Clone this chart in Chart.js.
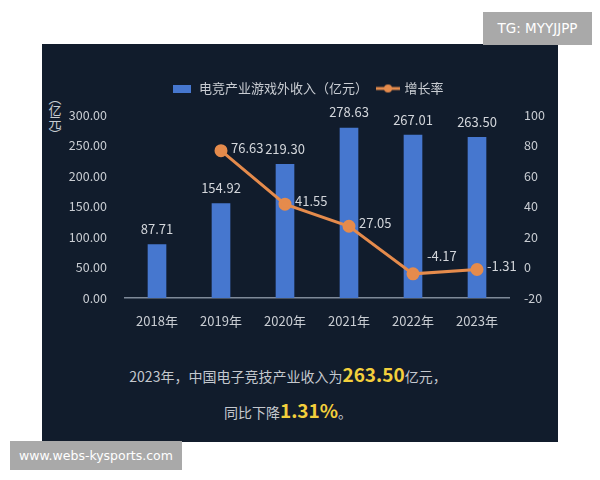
<!DOCTYPE html>
<html>
<head>
<meta charset="utf-8">
<script src="https://cdn.jsdelivr.net/npm/chart.js@4.4.1/dist/chart.umd.min.js"></script>
<style>
  html, body { margin: 0; padding: 0; width: 600px; height: 480px; overflow: hidden; background: #fff;
    font-family: 'Noto Sans CJK SC', 'Noto Sans', sans-serif; }
  #panel { position: absolute; left: 42px; top: 44px; width: 516px; height: 398px; background: #111c2c; }
  #chartBox { position: absolute; left: 42px; top: 42px; width: 516px; height: 300px; }
  #yTitle { position: absolute; left: 48px; top: 92px; width: 14px; text-align: center; color: #c9cdd3; font-size: 13px; line-height: 12px; }
  #summary { position: absolute; left: 42px; top: 357px; width: 492px; text-align: center; color: #c4c8ce; font-size: 14px; line-height: 33px; }
  #summary b { color: #f3cf3c; font-size: 19px; font-weight: bold; }
  .badge { position: absolute; background: #a9a9a9; color: #fff; text-align: center; font-family: 'DejaVu Sans', sans-serif; }
  #tg { left: 483px; top: 12px; width: 109px; height: 33px; line-height: 33px; font-size: 13.5px; }
  #site { left: 10px; top: 441px; width: 172px; height: 29px; line-height: 29px; font-size: 12.5px; }
</style>
</head>
<body>
<div id="panel"></div>
<div id="yTitle">︵<br>亿<br>元<br>︶</div>
<div id="chartBox"><canvas id="grafico"></canvas></div>
<div id="summary">
  2023年，中国电子竞技产业收入为<b>263.50</b>亿元，<br>同比下降<b>1.31%</b>。
</div>
<div class="badge" id="tg">TG: MYYJJPP</div>
<div class="badge" id="site">www.webs-kysports.com</div>

<script>
// datos
const anios = ['2018年', '2019年', '2020年', '2021年', '2022年', '2023年'];
const ingresos = [87.71, 154.92, 219.30, 278.63, 267.01, 263.50];
const crecimiento = [null, 76.63, 41.55, 27.05, -4.17, -1.31];
const nombreIngresos = '电竞产业游戏外收入（亿元）';
const nombreCrecimiento = '增长率';

const AZUL = '#4677cf';
const NARANJA = '#e58b4c';
const TEXTO = '#c9cdd3';

Chart.defaults.font.family = "'Noto Sans CJK SC', 'Noto Sans', sans-serif";
Chart.defaults.color = TEXTO;

// iconos de la leyenda
function iconoLeyenda(tipo) {
    const c = document.createElement('canvas');
    const g = c.getContext('2d');
    if (tipo === 'bar') {
        c.width = 18; c.height = 8;
        g.fillStyle = AZUL;
        g.fillRect(0, 0, 18, 8);
    } else {
        c.width = 24; c.height = 10;
        g.strokeStyle = NARANJA;
        g.lineWidth = 3;
        g.beginPath(); g.moveTo(0, 5); g.lineTo(24, 5); g.stroke();
        g.fillStyle = NARANJA;
        g.beginPath(); g.arc(12, 5, 4, 0, Math.PI * 2); g.fill();
    }
    return c;
}
const iconos = [iconoLeyenda('bar'), iconoLeyenda('line')];

// altura fija de la leyenda para fijar el area del grafico
const alturaLeyenda = {
    id: 'alturaLeyenda',
    beforeInit(chart) {
        const fitOriginal = chart.legend.fit;
        chart.legend.fit = function () {
            fitOriginal.bind(chart.legend)();
            this.height = 43;
        };
    }
};

// etiquetas de valores
const etiquetas = {
    id: 'etiquetas',
    afterDatasetsDraw(chart) {
        const ctx = chart.ctx;
        ctx.save();
        ctx.font = "13px 'Noto Sans CJK SC', 'Noto Sans', sans-serif";
        ctx.fillStyle = '#d3d6db';
        chart.getDatasetMeta(0).data.forEach((bar, i) => {
            ctx.textAlign = 'center';
            ctx.textBaseline = 'bottom';
            ctx.fillText(ingresos[i].toFixed(2), bar.x, bar.y - 9);
        });
        const puntos = chart.getDatasetMeta(1).data;
        puntos.forEach((pt, i) => {
            if (crecimiento[i] === null) return;
            // si la linea sube hacia la derecha, la etiqueta va arriba
            const sube = i < crecimiento.length - 1 && crecimiento[i + 1] > crecimiento[i];
            ctx.textAlign = 'left';
            ctx.textBaseline = 'middle';
            ctx.fillText(crecimiento[i].toFixed(2), pt.x + (sube ? 14 : 10), pt.y + (sube ? -18 : -3));
        });
        ctx.restore();
    }
};

const ctx = document.getElementById('grafico').getContext('2d');
new Chart(ctx, {
    data: {
        labels: anios,
        datasets: [{
            type: 'bar',
            label: nombreIngresos,
            data: ingresos,
            backgroundColor: AZUL,
            barThickness: 18,
            yAxisID: 'y',
            order: 1
        }, {
            type: 'line',
            label: nombreCrecimiento,
            data: crecimiento,
            borderColor: NARANJA,
            backgroundColor: NARANJA,
            borderWidth: 3,
            pointRadius: 5,
            pointHoverRadius: 5,
            tension: 0,
            yAxisID: 'y1',
            order: 0
        }]
    },
    options: {
        responsive: true,
        maintainAspectRatio: false,
        animation: false,
        layout: { padding: { top: 30, left: 16, right: 0, bottom: 0 } },
        plugins: {
            legend: {
                position: 'top',
                labels: {
                    usePointStyle: true,
                    pointStyleWidth: 20,
                    padding: 10,
                    color: TEXTO,
                    font: { size: 13 },
                    generateLabels: (chart) => chart.data.datasets.map((ds, i) => ({
                        text: ds.label,
                        pointStyle: iconos[i],
                        fontColor: TEXTO,
                        fillStyle: 'transparent',
                        strokeStyle: 'transparent',
                        lineWidth: 0,
                        hidden: false,
                        datasetIndex: i
                    }))
                }
            },
            tooltip: { enabled: false }
        },
        scales: {
            x: {
                grid: { display: false },
                border: { display: true, color: '#7f8a99', width: 1.5 },
                ticks: { font: { size: 13 }, color: TEXTO, padding: 7 },
                afterFit: (s) => { s.height = 44; }
            },
            y: {
                position: 'left',
                min: 0,
                max: 300,
                grid: { display: false },
                border: { display: false },
                ticks: {
                    stepSize: 50,
                    font: { size: 12.5 },
                    color: TEXTO,
                    padding: 10,
                    callback: (v) => v.toFixed(2)
                },
                afterFit: (s) => { s.width = 67; }
            },
            y1: {
                position: 'right',
                min: -20,
                max: 100,
                grid: { display: false },
                border: { display: false },
                ticks: { stepSize: 20, font: { size: 12.5 }, color: TEXTO, padding: 7 },
                afterFit: (s) => { s.width = 49; }
            }
        }
    },
    plugins: [alturaLeyenda, etiquetas]
});
</script>
</body>
</html>
